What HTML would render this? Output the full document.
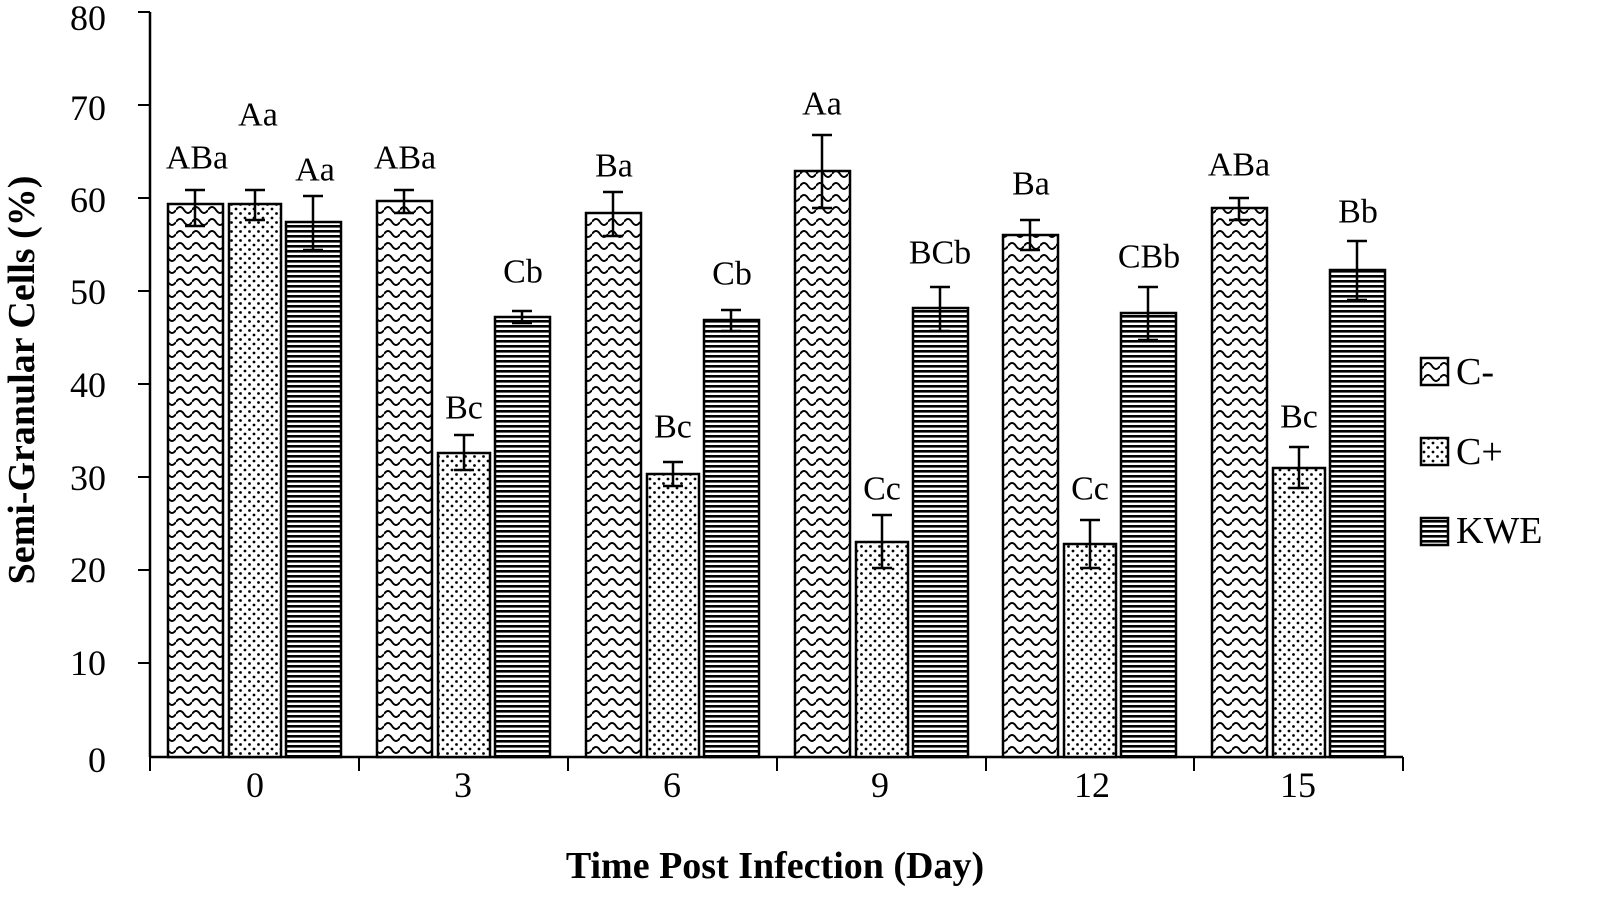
<!DOCTYPE html><html><head><style>body{margin:0;background:#fff}svg{display:block}</style></head><body>
<svg width="1616" height="919" xmlns="http://www.w3.org/2000/svg" font-family="Liberation Serif, serif">
<defs>
<pattern id="wave" width="16" height="12" patternUnits="userSpaceOnUse"><rect width="16" height="12" fill="#fff"/><path d="M0 6 Q4 0 8 6 T16 6" fill="none" stroke="#000" stroke-width="2"/></pattern>
<pattern id="dot" width="9" height="9" patternUnits="userSpaceOnUse"><rect width="9" height="9" fill="#fff"/><circle cx="2" cy="2" r="1.4" fill="#000"/><circle cx="6.5" cy="6.5" r="1.4" fill="#000"/></pattern>
<pattern id="hl" width="5" height="5" patternUnits="userSpaceOnUse"><rect width="5" height="5" fill="#fff"/><rect y="0" width="5" height="2.6" fill="#000"/></pattern>
</defs>
<g stroke="#000" stroke-width="2.5" fill="none">
<line x1="150" y1="12" x2="150" y2="757"/><line x1="150" y1="757" x2="1403" y2="757"/>
</g>
<g stroke="#000" stroke-width="2">
<line x1="138" y1="12" x2="150" y2="12"/><line x1="138" y1="105" x2="150" y2="105"/><line x1="138" y1="198" x2="150" y2="198"/><line x1="138" y1="291" x2="150" y2="291"/><line x1="138" y1="384" x2="150" y2="384"/><line x1="138" y1="477" x2="150" y2="477"/><line x1="138" y1="570" x2="150" y2="570"/><line x1="138" y1="663" x2="150" y2="663"/>
<line x1="150" y1="757" x2="150" y2="771"/><line x1="359" y1="757" x2="359" y2="771"/><line x1="568" y1="757" x2="568" y2="771"/><line x1="777" y1="757" x2="777" y2="771"/><line x1="986" y1="757" x2="986" y2="771"/><line x1="1194" y1="757" x2="1194" y2="771"/><line x1="1403" y1="757" x2="1403" y2="771"/>
</g>
<g font-size="36" text-anchor="end" dominant-baseline="central">
<text x="106" y="18">80</text><text x="106" y="108">70</text><text x="106" y="200">60</text><text x="106" y="292">50</text><text x="106" y="385">40</text><text x="106" y="478">30</text><text x="106" y="570">20</text><text x="106" y="663">10</text><text x="106" y="760">0</text>
</g>
<g font-size="36" text-anchor="middle" dominant-baseline="central">
<text x="255" y="785">0</text><text x="463" y="785">3</text><text x="672" y="785">6</text><text x="880" y="785">9</text><text x="1092" y="785">12</text><text x="1298" y="785">15</text>
</g>
<text x="775" y="866" font-size="38" font-weight="bold" text-anchor="middle" dominant-baseline="central">Time Post Infection (Day)</text>
<text transform="translate(22,380) rotate(-90)" font-size="38" font-weight="bold" text-anchor="middle" dominant-baseline="central">Semi-Granular Cells (%)</text>
<g stroke="#000" stroke-width="2.5">
<rect x="168" y="204" width="55" height="553" fill="url(#wave)"/><rect x="229" y="204" width="52" height="553" fill="url(#dot)"/><rect x="286" y="222" width="55" height="535" fill="url(#hl)"/>
<rect x="377" y="201" width="55" height="556" fill="url(#wave)"/><rect x="438" y="453" width="52" height="304" fill="url(#dot)"/><rect x="495" y="317" width="55" height="440" fill="url(#hl)"/>
<rect x="586" y="213" width="55" height="544" fill="url(#wave)"/><rect x="647" y="474" width="52" height="283" fill="url(#dot)"/><rect x="704" y="320" width="55" height="437" fill="url(#hl)"/>
<rect x="795" y="171" width="55" height="586" fill="url(#wave)"/><rect x="856" y="542" width="52" height="215" fill="url(#dot)"/><rect x="913" y="308" width="55" height="449" fill="url(#hl)"/>
<rect x="1003" y="235" width="55" height="522" fill="url(#wave)"/><rect x="1064" y="544" width="52" height="213" fill="url(#dot)"/><rect x="1121" y="313" width="55" height="444" fill="url(#hl)"/>
<rect x="1212" y="208" width="55" height="549" fill="url(#wave)"/><rect x="1273" y="468" width="52" height="289" fill="url(#dot)"/><rect x="1330" y="270" width="55" height="487" fill="url(#hl)"/>
</g>
<g stroke="#000" stroke-width="2.5" fill="none">
<path d="M195 190V226M185 190H205M185 226H205"/><path d="M255 190V220M245 190H265M245 220H265"/><path d="M313 196V250M303 196H323M303 250H323"/>
<path d="M404 190V213M394 190H414M394 213H414"/><path d="M464 435V470M454 435H474M454 470H474"/><path d="M522 311V323M512 311H532M512 323H532"/>
<path d="M613 192V236M603 192H623M603 236H623"/><path d="M673 462V486M663 462H683M663 486H683"/><path d="M731 310V331M721 310H741M721 331H741"/>
<path d="M822 135V208M812 135H832M812 208H832"/><path d="M882 515V568M872 515H892M872 568H892"/><path d="M940 287V331M930 287H950M930 331H950"/>
<path d="M1030 220V250M1020 220H1040M1020 250H1040"/><path d="M1090 520V568M1080 520H1100M1080 568H1100"/><path d="M1148 287V340M1138 287H1158M1138 340H1158"/>
<path d="M1239 198V220M1229 198H1249M1229 220H1249"/><path d="M1299 447V488M1289 447H1309M1289 488H1309"/><path d="M1357 241V300M1347 241H1367M1347 300H1367"/>
</g>
<g font-size="34" text-anchor="middle" dominant-baseline="central">
<text x="197" y="158">ABa</text><text x="258" y="115">Aa</text><text x="315" y="170">Aa</text>
<text x="405" y="158">ABa</text><text x="464" y="408">Bc</text><text x="523" y="272">Cb</text>
<text x="614" y="166">Ba</text><text x="673" y="427">Bc</text><text x="732" y="274">Cb</text>
<text x="822" y="104">Aa</text><text x="882" y="489">Cc</text><text x="940" y="253">BCb</text>
<text x="1031" y="184">Ba</text><text x="1090" y="489">Cc</text><text x="1149" y="257">CBb</text>
<text x="1239" y="165">ABa</text><text x="1299" y="417">Bc</text><text x="1358" y="212">Bb</text>
</g>
<g stroke="#000" stroke-width="2.5">
<rect x="1421" y="358" width="27" height="27" fill="url(#wave)"/><rect x="1421" y="438" width="27" height="27" fill="url(#dot)"/><rect x="1421" y="518" width="27" height="27" fill="url(#hl)"/>
</g>
<g font-size="38" dominant-baseline="central">
<text x="1456" y="372">C-</text><text x="1456" y="452">C+</text><text x="1456" y="531">KWE</text>
</g>
</svg>
</body></html>
